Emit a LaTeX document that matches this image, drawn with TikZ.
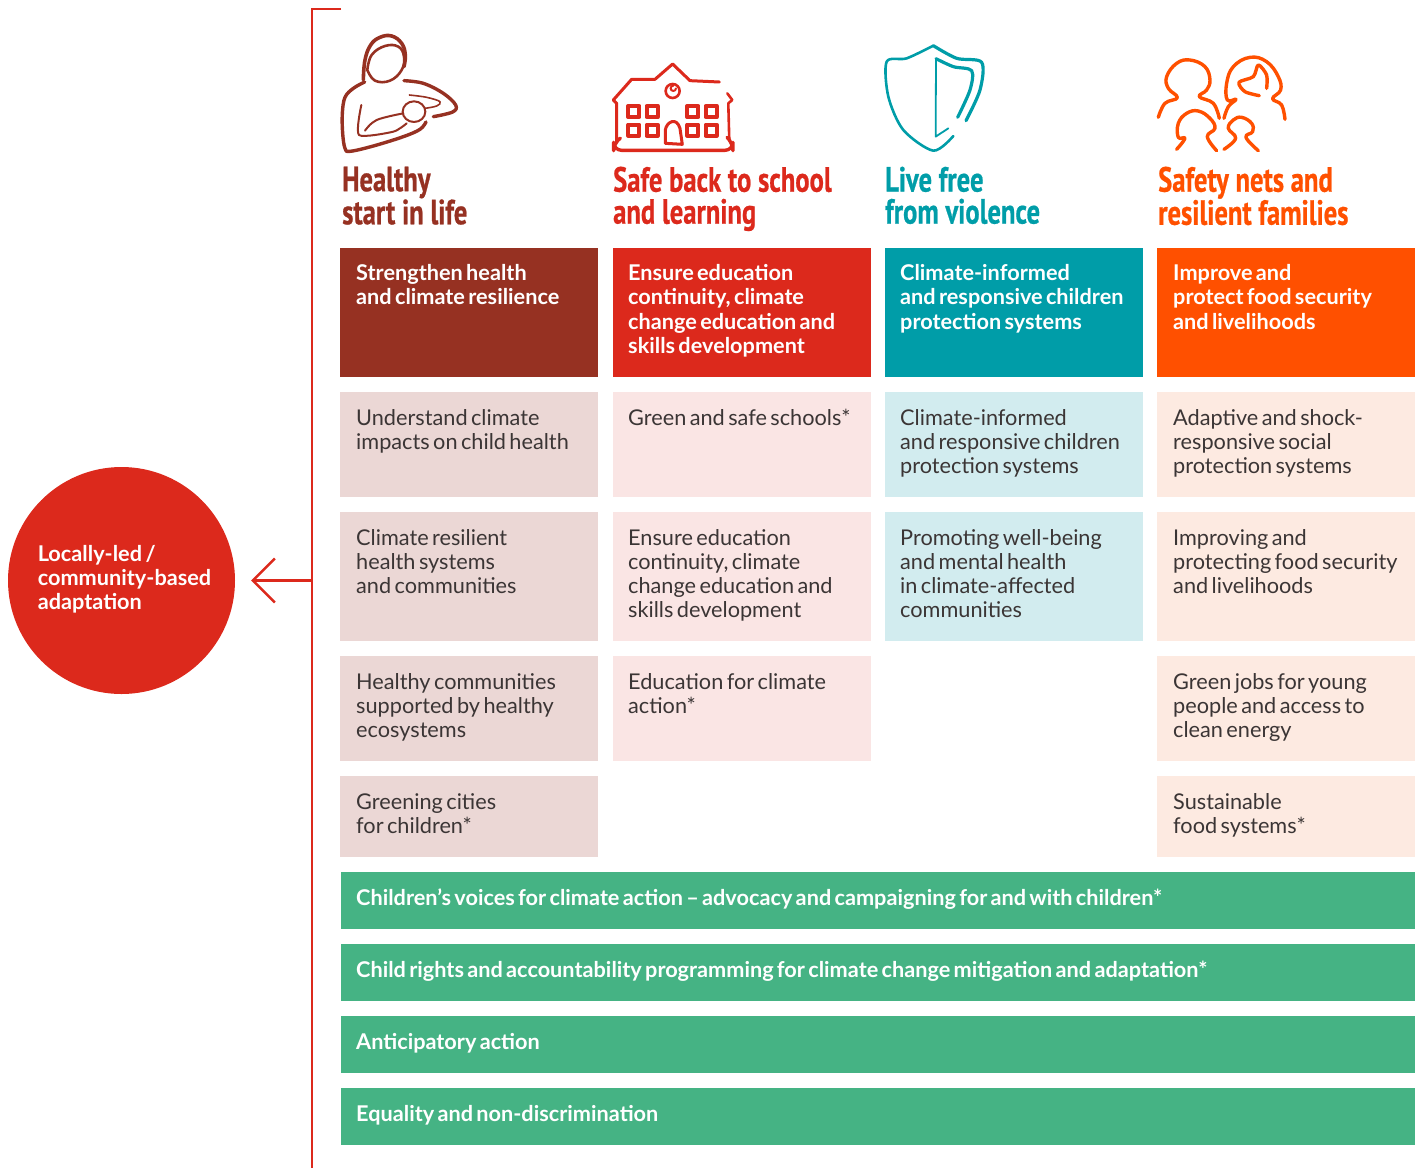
\documentclass[tikz,border=0pt]{standalone}
\usepackage{fontspec}
\setmainfont{Lato}[WordSpace=0.62]
\newfontfamily\headfont[FakeStretch=0.76,FakeBold=0.6]{PT Sans}
\usetikzlibrary{arrows.meta}

\definecolor{healthcol}{HTML}{963122}
\definecolor{schoolcol}{HTML}{DC291C}
\definecolor{violencecol}{HTML}{009DA8}
\definecolor{familycol}{HTML}{FF5000}
\definecolor{healthpale}{HTML}{EBD7D5}
\definecolor{schoolpale}{HTML}{FAE5E4}
\definecolor{violencepale}{HTML}{D2ECEF}
\definecolor{familypale}{HTML}{FDEAE1}
\definecolor{barcol}{HTML}{45B384}
\definecolor{inkcol}{HTML}{3B3535}

\def\cellinset{16}
\newcommand{\cellbody}[3][33]{\parbox[c][#2pt][t]{258pt}{\raggedright\leftskip=\cellinset pt\parindent=0pt\rule{0pt}{#1pt}#3}}
\newcommand{\barbody}[1]{\parbox[c][57pt][t]{1074pt}{\leftskip=15pt\parindent=0pt\rule{0pt}{33pt}#1}}

\tikzset{
	cell/.style = {anchor = north west, inner sep = 0pt, font = \fontsize{21.7}{24}\selectfont, text = inkcol},
	topcell/.style = {cell, text = white, font = \fontsize{21.7}{24.5}\selectfont\bfseries},
	bar/.style = {anchor = north west, inner sep = 0pt, fill = barcol, text = white, font = \fontsize{21.7}{24}\selectfont\bfseries},
	heading/.style = {anchor = north west, inner sep = 0pt, align = left, font = \fontsize{35}{32}\selectfont\headfont\bfseries},
	icon/.style = {line cap = round, line join = round, line width = 2.6pt}
}

\begin{document}
\begin{tikzpicture}[x=1pt, y=-1pt]
	\useasboundingbox (0,0) rectangle (1421,1168);

	\node (adaptation) [circle, fill = schoolcol, minimum size = 227pt, inner sep = 0pt, text = white, align = left, font = \fontsize{21.7}{24}\selectfont\bfseries] at (121.5,580.5) {\hspace*{6pt}Locally-led\,/\\\hspace*{6pt}community-based\\\hspace*{6pt}adaptation\rule[-7pt]{0pt}{0pt}};

	% bracket
	\coordinate (bracketTop) at (341,9);
	\coordinate (bracketCorner) at (312,9);
	\coordinate (bracketEnd) at (312,1168);
	\coordinate (bracketMid) at (312,580.5);
	\draw [schoolcol, line width = 2.4pt] (bracketTop) -- (bracketCorner) -- (bracketEnd);
	\draw [schoolcol, line width = 2.4pt, -{Straight Barb[length = 22pt, width = 44pt, line width = 2.4pt]}, shorten > = 16pt] (bracketMid) -- (adaptation);

	% headings
	\node (headHealth) [heading, text = healthcol] at (342,166.5) {Healthy\\start in life};
	\node (headSchool) [heading, text = schoolcol] at (613,166.5) {Safe back to school\\and learning};
	\node (headViolence) [heading, text = violencecol] at (885,166.5) {Live free\\from violence};
	\node (headFamily) [heading, text = familycol] at (1158,166.5) {Safety nets and\\resilient families};

	% mother icon
	\begin{scope}[shift = {(330,20)}, x = 0.3333pt, y = -0.3333pt, icon, healthcol]
		\draw plot [smooth, tension = 0.7] coordinates {(112,150) (125,105) (165,78) (205,80) (222,110) (215,150) (180,182) (135,182) (112,150)};
		\draw [line width = 3.6pt] plot [smooth, tension = 0.7] coordinates {(100,180) (105,120) (122,75) (150,52) (185,48) (215,70) (226,105) (222,140)};
		\draw [line width = 3.4pt] plot [smooth, tension = 0.6] coordinates {(104,186) (70,205) (45,232) (37,280) (38,340) (45,385) (60,394) (130,378) (220,350) (270,328) (288,306)};
		\draw [line width = 3.4pt] plot [smooth, tension = 0.6] coordinates {(222,182) (280,190) (340,220) (377,255) (368,276) (310,290)};
		\draw [line width = 2pt] (252,275) ellipse (34 and 31);
		\draw [line width = 1.6pt] plot [smooth, tension = 0.6] coordinates {(238,225) (290,232) (330,245) (320,258) (285,265)};
		\draw [line width = 2pt] plot [smooth, tension = 0.6] coordinates {(105,332) (140,300) (220,280)};
		\draw [line width = 2pt] plot [smooth, tension = 0.4] coordinates {(94,255) (87,345) (190,335) (230,310)};
	\end{scope}

	% school icon
	\begin{scope}[shift = {(330,20)}, x = 0.3333pt, y = -0.3333pt, icon, schoolcol]
		\draw [line width = 3pt] (1168,186) -- (1080,182) -- (1028,132) -- (975,178) -- (905,178) -- (850,240) -- (860,250) -- (860,362);
		\draw (1192,220) -- (1207,240) -- (1195,250) -- (1198,362);
		\draw [line width = 3.4pt, rounded corners = 8pt] (860,362) -- (851,368) -- (851,391) -- (1209,391) -- (1209,368) -- (1198,358);
		\draw (1028,213) circle (21);
		\draw [line width = 2pt] (1038,205) arc (0:270:8);
		\foreach \winX in {895,950,1072,1127} {
			\foreach \winY in {258,314} {
				\draw [line width = 4.2pt] (\winX,\winY) rectangle ++(33,33);
			}
		}
		\draw [line width = 3pt] (1006,370) -- (1006,330) .. controls (1010,305) and (1040,290) .. (1050,325) -- (1057,373) -- cycle;
	\end{scope}

	% shield icon
	\begin{scope}[shift = {(870,30)}, x = 0.3333pt, y = -0.3333pt, icon, violencecol]
		\draw plot [smooth, tension = 0.5] coordinates {(250,318) (190,362) (100,300) (55,200) (50,95) (110,85) (190,47)};
		\draw [line width = 3.2pt] plot [smooth, tension = 0.5] coordinates {(190,47) (260,85) (335,97) (330,180) (288,272)};
		\draw [line width = 1.8pt] (235,295) -- (197,320) -- (198,86);
		\draw [line width = 3.2pt] plot [smooth, tension = 0.5] coordinates {(198,86) (250,110) (305,122) (300,180) (263,262)};
	\end{scope}

	% family icon
	\begin{scope}[shift = {(870,30)}, x = 0.3333pt, y = -0.3333pt, icon, familycol, line width = 3.4pt]
		\draw plot [smooth, tension = 0.7] coordinates {(865,262) (885,220) (922,203) (895,175) (890,140) (920,100) (960,90) (1005,110) (1020,150) (1010,180) (988,200) (1030,220) (1048,265)};
		\draw plot [smooth, tension = 0.7] coordinates {(1062,265) (1075,230) (1098,208) (1072,210) (1070,160) (1090,110) (1140,82) (1190,95) (1225,140) (1232,180) (1208,206) (1235,225) (1245,268)};
		\draw plot [smooth, tension = 0.5] coordinates {(1190,175) (1190,135) (1165,105) (1150,140) (1107,157) (1125,185) (1168,197)};
		\draw plot [smooth, tension = 0.7] coordinates {(920,358) (945,325) (925,322) (925,280) (950,250) (985,243) (1020,265) (1035,295) (1012,320) (1040,362)};
		\draw plot [smooth, tension = 0.7] coordinates {(1062,358) (1097,325) (1075,295) (1090,270) (1115,262) (1145,280) (1148,305) (1128,322) (1165,362)};
	\end{scope}

	% health column
	\node (healthTop) [topcell, fill = healthcol] at (340,248) {\cellbody[32]{129}{Strengthen health\\and climate resilience}};
	\node (healthA) [cell, fill = healthpale] at (340,392) {\cellbody{105}{Understand climate\\impacts on child health}};
	\node (healthB) [cell, fill = healthpale] at (340,512) {\cellbody{129}{Climate resilient\\health systems\\and communities}};
	\node (healthC) [cell, fill = healthpale] at (340,656) {\cellbody{105}{Healthy communities\\supported by healthy\\ecosystems}};
	\node (healthD) [cell, fill = healthpale] at (340,776) {\cellbody{81}{Greening cities\\for children*}};

	\begin{scope}
		\def\cellinset{15}

		% school column
		\node (schoolTop) [topcell, fill = schoolcol] at (613,248) {\cellbody[32]{129}{Ensure education\\continuity, climate\\change education and\\skills development}};
		\node (schoolA) [cell, fill = schoolpale] at (613,392) {\cellbody{105}{Green and safe schools*}};
		\node (schoolB) [cell, fill = schoolpale] at (613,512) {\cellbody{129}{Ensure education\\continuity, climate\\change education and\\skills development}};
		\node (schoolC) [cell, fill = schoolpale] at (613,656) {\cellbody{105}{Education for climate\\action*}};

		% violence column
		\node (violenceTop) [topcell, fill = violencecol] at (885,248) {\cellbody[32]{129}{Climate-informed\\and responsive children\\protection systems}};
		\node (violenceA) [cell, fill = violencepale] at (885,392) {\cellbody{105}{Climate-informed\\and responsive children\\protection systems}};
		\node (violenceB) [cell, fill = violencepale] at (885,512) {\cellbody{129}{Promoting well-being\\and mental health\\in climate-affected\\communities}};
	\end{scope}

	% family column
	\node (familyTop) [topcell, fill = familycol] at (1157,248) {\cellbody[32]{129}{Improve and\\protect food security\\and livelihoods}};
	\node (familyA) [cell, fill = familypale] at (1157,392) {\cellbody{105}{Adaptive and shock-\\responsive social\\protection systems}};
	\node (familyB) [cell, fill = familypale] at (1157,512) {\cellbody{129}{Improving and\\protecting food security\\and livelihoods}};
	\node (familyC) [cell, fill = familypale] at (1157,656) {\cellbody{105}{Green jobs for young\\people and access to\\clean energy}};
	\node (familyD) [cell, fill = familypale] at (1157,776) {\cellbody{81}{Sustainable\\food systems*}};

	% cross-cutting bars
	\node (barVoices) [bar] at (341,872) {\barbody{Children’s voices for climate action – advocacy and campaigning for and with children*}};
	\node (barRights) [bar] at (341,944) {\barbody{Child rights and accountability programming for climate change mitigation and adaptation*}};
	\node (barAction) [bar] at (341,1016) {\barbody{Anticipatory action}};
	\node (barEquality) [bar] at (341,1088) {\barbody{Equality and non-discrimination}};
\end{tikzpicture}
\end{document}
